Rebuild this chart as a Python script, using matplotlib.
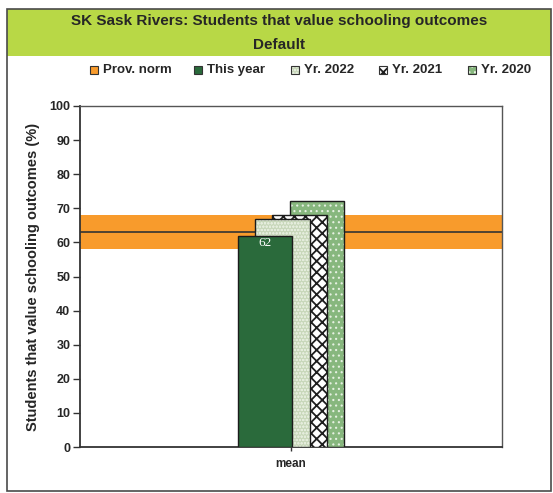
import matplotlib
matplotlib.use("Agg")
import matplotlib.pyplot as plt
from matplotlib.patches import Rectangle

plt.rcParams['font.family'] = ['Liberation Sans', 'DejaVu Sans']

# ---- data ----
title_lines = ["SK Sask Rivers: Students that value schooling outcomes", "Default"]
categories = ["mean"]
series_names = ["This year", "Yr. 2022", "Yr. 2021", "Yr. 2020"]
series_values = [62, 67, 68, 72]
prov_norm_label = "Prov. norm"
prov_norm = 63
prov_band = [58, 68]
y_ticks = [0, 10, 20, 30, 40, 50, 60, 70, 80, 90, 100]
y_label = "Students that value schooling outcomes (%)"

# ---- styles ----
series_styles = {
    "This year": dict(face="#2a6a3b", hatch=None, hcolor=None, hlw=1.0),
    "Yr. 2022": dict(face="#c8d7ba", hatch="ooooo", hcolor="#e4ecdc", hlw=0.6),
    "Yr. 2021": dict(face="#ffffff", hatch="xxx", hcolor="#1e1e1e", hlw=1.3),
    "Yr. 2020": dict(face="#87b77e", hatch="...", hcolor="#e6f0e2", hlw=0.8),
}
band_color = "#f89b2c"
header_color = "#b8d846"
text_color = "#262626"

W, H = 553, 493
fig = plt.figure(figsize=(W / 100, H / 100), dpi=100)


def fx(px):
    return px / W


def fy(py):
    return 1 - py / H


# outer frame and header band
fig.patches.append(Rectangle((fx(7), fy(56)), fx(551) - fx(7), fy(9) - fy(56),
                             transform=fig.transFigure, facecolor=header_color,
                             edgecolor="none", zorder=0))
fig.patches.append(Rectangle((fx(7), fy(491)), fx(551) - fx(7), fy(9) - fy(491),
                             transform=fig.transFigure, fill=False,
                             edgecolor="#4a4a4a", lw=1.2, zorder=1))

fig.text(fx(279), fy(21), title_lines[0], ha="center", va="center",
         fontsize=11, fontweight="bold", color=text_color)
fig.text(fx(279), fy(45), title_lines[1], ha="center", va="center",
         fontsize=11, fontweight="bold", color=text_color)

# plot area
ax = fig.add_axes([fx(80), fy(447), fx(502) - fx(80), fy(106) - fy(447)])
ax.set_xlim(-0.5, 0.5)
ax.set_ylim(0, 100)

ax.axhspan(prov_band[0], prov_band[1], color=band_color, lw=0, zorder=1)
ax.axhline(prov_norm, color="#333333", lw=1.2, zorder=2)

bar_w = 0.130
step = 0.041
n = len(series_names)
x0 = 0
for i in reversed(range(n)):
    name = series_names[i]
    st = series_styles[name]
    xc = x0 + (i - (n - 1) / 2) * step
    z = 10 + (n - i)
    with plt.rc_context({"hatch.linewidth": st["hlw"]}):
        ax.bar(xc, series_values[i], bar_w, color=st["face"],
               hatch=st["hatch"], edgecolor=st["hcolor"] or st["face"],
               lw=0, zorder=z)
    ax.bar(xc, series_values[i], bar_w, fill=False, edgecolor="#1c1c1c",
           lw=1.0, zorder=z + 0.5)
    if name == "This year":
        ax.text(xc, series_values[i] - 2.3, f"{series_values[i]}",
                ha="center", va="center", color="white", fontsize=9.5,
                family="Liberation Serif", zorder=20)

ax.set_xticks([0])
ax.set_xticklabels(categories, fontsize=8.5, fontweight="bold", color=text_color)
ax.set_yticks(y_ticks)
ax.set_yticklabels([str(t) for t in y_ticks], fontsize=9, fontweight="bold",
                   color=text_color)
ax.tick_params(axis="y", length=5, width=1, color="#333333", pad=2)
ax.tick_params(axis="x", length=3, width=1, color="#333333", pad=5)

for s in ["left", "bottom"]:
    ax.spines[s].set_color("#333333")
    ax.spines[s].set_linewidth(1.3)
for s in ["top", "right"]:
    ax.spines[s].set_color("#555555")
    ax.spines[s].set_linewidth(1.0)

fig.text(fx(33), fy(277), y_label, rotation=90, ha="center", va="center",
         fontsize=10.5, fontweight="bold", color=text_color)

# legend row
legend_names = [prov_norm_label] + series_names
legend_text_x = [103, 207, 304, 392, 481]
legend_y = 70
sq = 8
for name, tx in zip(legend_names, legend_text_x):
    if name == prov_norm_label:
        face, hatch, hcol, hlw = band_color, None, None, 1.0
    else:
        st = series_styles[name]
        face, hatch, hcol, hlw = st["face"], st["hatch"], st["hcolor"], st["hlw"]
    left = tx - 5 - sq
    with plt.rc_context({"hatch.linewidth": hlw}):
        fig.patches.append(Rectangle((fx(left), fy(legend_y + sq / 2)),
                                     fx(sq), sq / H, transform=fig.transFigure,
                                     facecolor=face, hatch=hatch,
                                     edgecolor=hcol or face, lw=0))
    fig.patches.append(Rectangle((fx(left), fy(legend_y + sq / 2)),
                                 fx(sq), sq / H, transform=fig.transFigure,
                                 fill=False, edgecolor="#333333", lw=0.8))
    fig.text(fx(tx), fy(legend_y), name, ha="left", va="center",
             fontsize=9.5, fontweight="bold", color=text_color)

fig.savefig("out.png", dpi=100)
